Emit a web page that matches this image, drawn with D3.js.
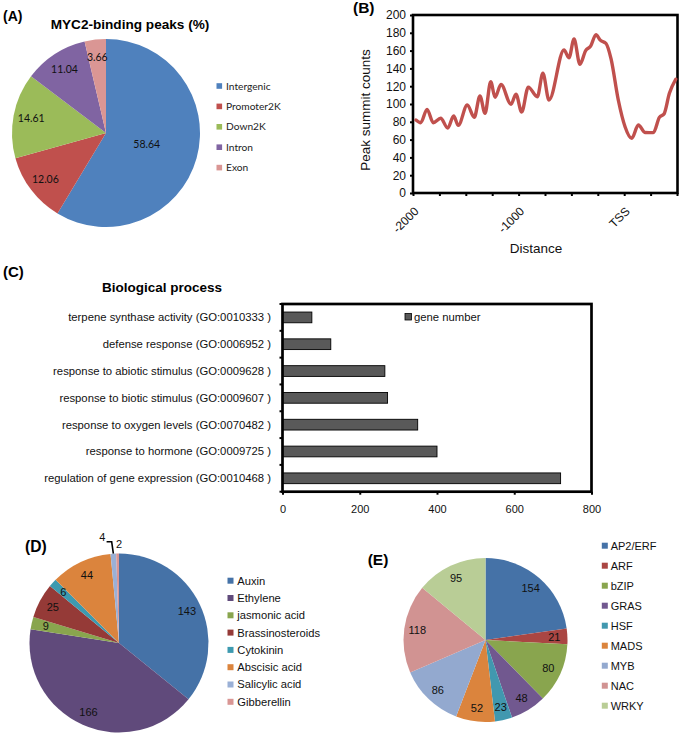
<!DOCTYPE html>
<html><head><meta charset="utf-8">
<script src="https://cdn.jsdelivr.net/npm/d3@7"></script>
<style>body{margin:0;background:#fff;} svg{display:block;}</style>
</head><body>
<svg id="c" width="685" height="733"></svg>
<script>
// ---------- Panel A data ----------
const peakCategories = ["Intergenic","Promoter2K","Down2K","Intron","Exon"];
const peakPercents = [58.64, 12.06, 14.61, 11.04, 3.66];
const peakColors = ["#4F81BD","#C0504D","#9BBB59","#8064A2","#DA9694"];

// ---------- Panel B data ----------
const distanceBp = [-1972,-1927,-1867,-1808,-1738,-1671,-1615,-1571,-1486,-1420,-1366,-1318,-1264,-1223,-1167,-1072,-1025,-971,-908,-823,-770,-712,-570,-523,-475,-419,-365,-318,-267,-229,-172,-125,-56,8,71,134,197,276,333,377,428,488];
const summitCounts = [82,79,94,79,84,73,86.5,76,99,85,109,89.5,125,107.5,122,99.7,111,91,119,108,134.5,104.5,160.7,152,173,144.6,160,165,178,172,168,151,104.5,74.5,61.4,76.4,68,67.8,85,88.8,112,127.8];
const distanceTicks = [-2000,-1750,-1500,-1250,-1000,-750,-500,-250,0,250,500];
const distanceTickLabels = {"-2000":"-2000","-1000":"-1000","0":"TSS"};
const countTicks = [0,20,40,60,80,100,120,140,160,180,200];

// ---------- Panel C data ----------
const goTerms = ["terpene synthase activity (GO:0010333 )","defense response (GO:0006952 )","response to abiotic stimulus (GO:0009628 )","response to biotic stimulus (GO:0009607 )","response to oxygen levels (GO:0070482 )","response to hormone (GO:0009725 )","regulation of gene expression (GO:0010468 )"];
const geneNumbers = [76, 125, 265, 272, 350, 400, 720];
const geneTicks = [0,200,400,600,800];

// ---------- Panel D data ----------
const hormones = ["Auxin","Ethylene","jasmonic acid","Brassinosteroids","Cytokinin","Abscisic acid","Salicylic acid","Gibberellin"];
const hormoneGenes = [143,166,9,25,6,44,4,2];
const hormoneColors = ["#4572A7","#604A7B","#89A54E","#953A37","#3D9AB0","#DB843D","#9AB0D6","#D99694"];

// ---------- Panel E data ----------
const tfFamilies = ["AP2/ERF","ARF","bZIP","GRAS","HSF","MADS","MYB","NAC","WRKY"];
const tfGenes = [154,21,80,48,23,52,86,118,95];
const tfColors = ["#4572A7","#AA4643","#89A54E","#71588F","#4198AF","#DB843D","#93A9CF","#D19392","#B9CD96"];

const svg = d3.select("#c");
const ARIAL = "'Liberation Sans', Arial, sans-serif";
const CAL = "Lato, 'Open Sans', sans-serif";

function panelLabel(txt, x, y, size) {
  svg.append("text").attr("x", x).attr("y", y).attr("dy","0.35em")
    .attr("font-family", ARIAL).attr("font-weight","bold").attr("font-size", size)
    .attr("fill","#000").text(txt);
}
const pieGen = d3.pie().sort(null).value(d => d);
const midA = d => (d.startAngle + d.endAngle) / 2;

// ================= Panel A =================
panelLabel("(A)", 3, 16, 14);
svg.append("text").attr("x",130).attr("y",24).attr("dy","0.35em").attr("text-anchor","middle")
  .attr("font-family", ARIAL).attr("font-weight","bold").attr("font-size",13.6).text("MYC2-binding peaks (%)");
{
  const r = 94;
  const g = svg.append("g").attr("transform","translate(106,133)");
  const arcs = pieGen(peakPercents);
  const arc = d3.arc().innerRadius(0).outerRadius(r);
  g.selectAll("path").data(arcs).join("path").attr("d", arc).attr("fill", (d,i) => peakColors[i]);
  g.selectAll("text").data(arcs).join("text")
    .attr("x", d => Math.sin(midA(d)) * (d.value > 50 ? 0.45 : 0.81) * r)
    .attr("y", d => -Math.cos(midA(d)) * (d.value > 50 ? 0.45 : 0.81) * r)
    .attr("dy","0.35em").attr("text-anchor","middle")
    .attr("font-family", CAL).attr("font-size", 10.5).attr("fill","#111")
    .text(d => d3.format(".2f")(d.value));
  const lg = svg.append("g");
  peakCategories.forEach((c,i) => {
    const y = 86 + i * 20.4;
    lg.append("rect").attr("x",216.5).attr("y",y-2.8).attr("width",5.6).attr("height",5.6).attr("fill",peakColors[i]);
    lg.append("text").attr("x",226).attr("y",y).attr("dy","0.35em").attr("font-family",CAL).attr("font-size",10.2).attr("fill","#222").text(c);
  });
}

// ================= Panel B =================
panelLabel("(B)", 353, 8, 15.5);
{
  const x = d3.scaleLinear().domain([-2000, 500]).range([413, 677]);
  const y = d3.scaleLinear().domain([0, 200]).range([193, 15]);
  const g = svg.append("g");
  // y axis ticks
  const ya = g.append("g").attr("transform","translate(413,0)")
    .call(d3.axisLeft(y).tickValues(countTicks).tickSize(3).tickPadding(4));
  ya.select(".domain").remove();
  ya.selectAll("line").attr("stroke","#000").attr("stroke-width",2);
  ya.selectAll("text").attr("font-family",ARIAL).attr("font-size",12).attr("fill","#111");
  // x axis ticks
  const xa = g.append("g").attr("transform","translate(0,193)")
    .call(d3.axisBottom(x).tickValues(distanceTicks).tickSize(3)
      .tickFormat(d => distanceTickLabels[String(d)] || ""));
  xa.select(".domain").remove();
  xa.selectAll("line").attr("stroke","#000").attr("stroke-width",2);
  xa.selectAll("text").attr("x",0).attr("y",0).attr("dy","0.35em")
    .attr("transform","translate(3,16) rotate(-45)").attr("text-anchor","end")
    .attr("font-family",ARIAL).attr("font-size",12).attr("fill","#111");
  // frame
  g.append("rect").attr("x",413).attr("y",15).attr("width",264.5).attr("height",178)
    .attr("fill","none").attr("stroke","#000").attr("stroke-width",2.6);
  // line
  const line = d3.line().x((d,i) => x(distanceBp[i])).y(d => y(d)).curve(d3.curveMonotoneX);
  g.append("path").attr("d", line(summitCounts)).attr("fill","none")
    .attr("stroke","#C0504D").attr("stroke-width",3.4).attr("stroke-linejoin","round").attr("stroke-linecap","round");
  // titles
  svg.append("text").attr("transform","translate(369.5,110) rotate(-90)").attr("text-anchor","middle")
    .attr("font-family",ARIAL).attr("font-size",13.5).attr("fill","#111").text("Peak summit counts");
  svg.append("text").attr("x",536).attr("y",253).attr("text-anchor","middle")
    .attr("font-family",ARIAL).attr("font-size",13.5).attr("fill","#111").text("Distance");
}

// ================= Panel C =================
panelLabel("(C)", 3, 272, 15);
svg.append("text").attr("x",162).attr("y",287).attr("dy","0.35em").attr("text-anchor","middle")
  .attr("font-family", ARIAL).attr("font-weight","bold").attr("font-size",13.5).text("Biological process");
{
  const x = d3.scaleLinear().domain([0, 800]).range([282.5, 591.5]);
  const y = d3.scaleBand().domain(goTerms).range([304, 491.7]).paddingInner(0.6).paddingOuter(0.3);
  const g = svg.append("g");
  g.selectAll("rect.bar").data(geneNumbers).join("rect").attr("class","bar")
    .attr("x", x(0)).attr("y", (d,i) => y(goTerms[i]))
    .attr("width", d => x(d) - x(0)).attr("height", y.bandwidth())
    .attr("fill","#595959").attr("stroke","#000").attr("stroke-width",0.9);
  // category labels
  g.selectAll("text.cat").data(goTerms).join("text").attr("class","cat")
    .attr("x",271).attr("y", d => y(d) + y.bandwidth()/2).attr("dy","0.35em").attr("text-anchor","end")
    .attr("font-family",ARIAL).attr("font-size",11.3).attr("fill","#111").text(d => d);
  // left boundary ticks
  const step = y.step();
  d3.range(goTerms.length + 1).forEach(i => {
    const yy = 304 + i * step;
    g.append("line").attr("x1",279.5).attr("x2",282.5).attr("y1",yy).attr("y2",yy).attr("stroke","#000").attr("stroke-width",2);
  });
  // x axis
  const xa = g.append("g").attr("transform","translate(0,491.7)")
    .call(d3.axisBottom(x).tickValues(geneTicks).tickSize(3).tickPadding(11));
  xa.select(".domain").remove();
  xa.selectAll("line").attr("stroke","#000").attr("stroke-width",2);
  xa.selectAll("text").attr("font-family",ARIAL).attr("font-size",11).attr("fill","#111");
  // frame
  g.append("rect").attr("x",282.5).attr("y",304).attr("width",309).attr("height",187.7)
    .attr("fill","none").attr("stroke","#000").attr("stroke-width",2.7);
  // legend
  g.append("rect").attr("x",405).attr("y",313.5).attr("width",6.5).attr("height",6.5).attr("fill","#595959").attr("stroke","#000").attr("stroke-width",0.8);
  g.append("text").attr("x",414).attr("y",317).attr("dy","0.35em").attr("font-family",ARIAL).attr("font-size",11.3).attr("fill","#111").text("gene number");
}

// ================= Panel D =================
panelLabel("(D)", 25, 547, 15.6);
{
  const r = 89.5, cx = 119, cy = 643;
  const g = svg.append("g").attr("transform",`translate(${cx},${cy})`);
  const arcs = pieGen(hormoneGenes);
  const arc = d3.arc().innerRadius(0).outerRadius(r);
  g.selectAll("path").data(arcs).join("path").attr("d", arc).attr("fill", (d,i) => hormoneColors[i]);
  const total = d3.sum(hormoneGenes);
  // label placement: inside at 0.84r, tiny slices outside
  const outside = {6: {k: 1.19, dx: -10}, 7: {k: 1.11, dx: 1.5}};
  arcs.forEach((d,i) => {
    const a = midA(d);
    const o = outside[i];
    const k = o ? o.k : 0.84;
    const lx = Math.sin(a) * k * r + (o ? o.dx : 0);
    const ly = -Math.cos(a) * k * r;
    g.append("text").attr("x", lx).attr("y", ly).attr("dy","0.35em").attr("text-anchor","middle")
      .attr("font-family",ARIAL).attr("font-size",11).attr("fill","#111").text(d.value);
    if (o && o.dx < 0) {
      const ex = Math.sin(a) * r, ey = -Math.cos(a) * r;
      g.append("path").attr("d", `M${lx+4.3},${ly+5}H${ex-1.7}L${ex},${ey}`)
        .attr("fill","none").attr("stroke","#000").attr("stroke-width",1.6);
    }
  });
  hormones.forEach((c,i) => {
    const y = 580.7 + i * 17.3;
    svg.append("rect").attr("x",227.5).attr("y",y-3).attr("width",6).attr("height",6).attr("fill",hormoneColors[i]);
    svg.append("text").attr("x",237.3).attr("y",y).attr("dy","0.35em").attr("font-family",ARIAL).attr("font-size",11.2).attr("fill","#111").text(c);
  });
}

// ================= Panel E =================
panelLabel("(E)", 367.7, 559.3, 15.5);
{
  const r = 82, cx = 485.5, cy = 640;
  const g = svg.append("g").attr("transform",`translate(${cx},${cy})`);
  const arcs = pieGen(tfGenes);
  const arc = d3.arc().innerRadius(0).outerRadius(r);
  g.selectAll("path").data(arcs).join("path").attr("d", arc).attr("fill", (d,i) => tfColors[i]);
  g.selectAll("text").data(arcs).join("text")
    .attr("x", d => Math.sin(midA(d)) * 0.84 * r)
    .attr("y", d => -Math.cos(midA(d)) * 0.84 * r)
    .attr("dy","0.35em").attr("text-anchor","middle")
    .attr("font-family",ARIAL).attr("font-size",11).attr("fill","#111").text(d => d.value);
  tfFamilies.forEach((c,i) => {
    const y = 545.7 + i * 20;
    svg.append("rect").attr("x",601.8).attr("y",y-3).attr("width",6).attr("height",6).attr("fill",tfColors[i]);
    svg.append("text").attr("x",610.7).attr("y",y).attr("dy","0.35em").attr("font-family",ARIAL).attr("font-size",11).attr("fill","#111").text(c);
  });
}
</script>
</body></html>
